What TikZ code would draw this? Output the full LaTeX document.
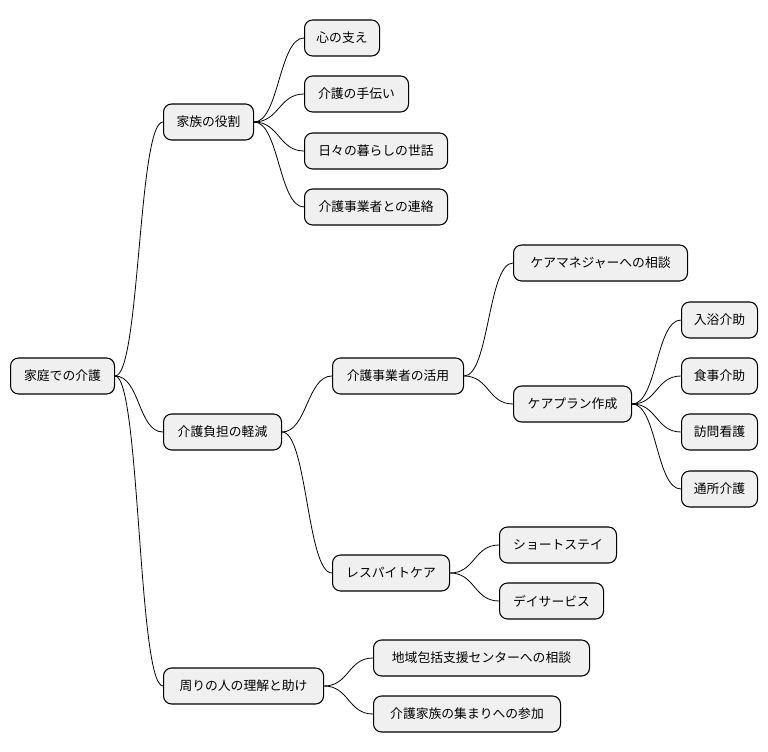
\documentclass[tikz,border=0pt]{standalone}
\usepackage{fontspec}
\setmainfont{Noto Sans CJK JP}
\begin{document}
\begin{tikzpicture}[x=0.75pt,y=-0.75pt,
  box/.style={draw=black,line width=0.8pt,fill=black!6,rounded corners=6pt,minimum height=27pt,inner sep=0pt,anchor=west,font=\fontsize{9.6pt}{11pt}\selectfont},
  link/.style={draw=black,line width=0.6pt}]
\useasboundingbox (0,0) rectangle (768,752);
\newcommand{\bx}[5]{\node[box,minimum width=#4*0.75pt-#3*0.75pt] (#1) at (#3,#5) {#2};}
\bx{root}{家庭での介護}{10}{114}{376}
\bx{a}{家族の役割}{163}{253}{122}
\bx{a1}{心の支え}{304}{379}{38}
\bx{a2}{介護の手伝い}{304}{408}{94}
\bx{a3}{日々の暮らしの世話}{304}{447}{151}
\bx{a4}{介護事業者との連絡}{304}{447}{207}
\bx{b}{介護負担の軽減}{163}{281}{432}
\bx{b1}{介護事業者の活用}{332}{463}{376}
\bx{b11}{ケアマネジャーへの相談}{513}{687}{263}
\bx{b12}{ケアプラン作成}{513}{631}{404}
\bx{c1}{入浴介助}{681}{757}{320}
\bx{c2}{食事介助}{681}{757}{376}
\bx{c3}{訪問看護}{681}{757}{432}
\bx{c4}{通所介護}{681}{757}{489}
\bx{b2}{レスパイトケア}{332}{449}{573}
\bx{b21}{ショートステイ}{499}{616}{545}
\bx{b22}{デイサービス}{499}{603}{601}
\bx{d}{周りの人の理解と助け}{163}{323}{686}
\bx{d1}{地域包括支援センターへの相談}{373}{589}{658}
\bx{d2}{介護家族の集まりへの参加}{373}{560}{714}
\foreach \p/\c in {root/a,root/b,root/d,a/a1,a/a2,a/a3,a/a4,b/b1,b/b2,b1/b11,b1/b12,b12/c1,b12/c2,b12/c3,b12/c4,b2/b21,b2/b22,d/d1,d/d2}
  \draw[link] (\p.east) .. controls +(25,0) and +(-25,0) .. (\c.west);
\end{tikzpicture}
\end{document}
